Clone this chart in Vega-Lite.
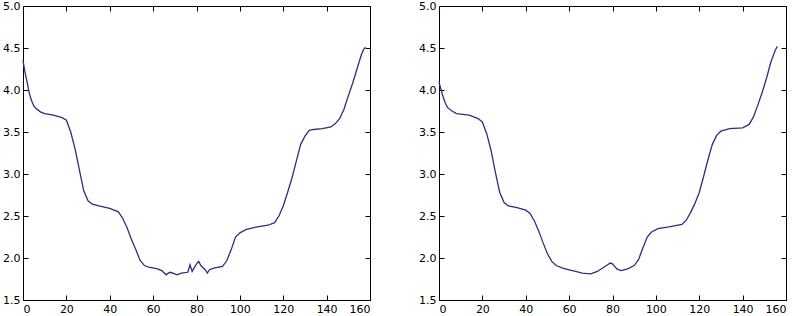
{
  "$schema": "https://vega.github.io/schema/vega-lite/v6.json",
  "padding": {"left": 2, "top": 0, "right": 0, "bottom": 0},
  "background": "white",
  "spacing": 47,
  "config": {
    "view": {"stroke": null},
    "font": "DejaVu Sans",
    "axis": {
      "grid": false,
      "title": null,
      "domainColor": "black",
      "domainWidth": 1,
      "tickColor": "black",
      "tickSize": -5,
      "labelPadding": 8,
      "labelFont": "DejaVu Sans",
      "labelFontSize": 11,
      "labelColor": "black"
    }
  },
  "datasets": {
    "left": [
      {"x": 0, "v": 4.35}, {"x": 1, "v": 4.2}, {"x": 2, "v": 4.08}, {"x": 3, "v": 3.95}, {"x": 4, "v": 3.87},
      {"x": 5, "v": 3.81}, {"x": 6, "v": 3.78}, {"x": 8, "v": 3.74}, {"x": 10, "v": 3.72}, {"x": 14, "v": 3.7},
      {"x": 18, "v": 3.67}, {"x": 20, "v": 3.64}, {"x": 22, "v": 3.5}, {"x": 24, "v": 3.3}, {"x": 26, "v": 3.05},
      {"x": 28, "v": 2.8}, {"x": 30, "v": 2.68}, {"x": 32, "v": 2.64}, {"x": 35, "v": 2.62}, {"x": 40, "v": 2.59},
      {"x": 44, "v": 2.55}, {"x": 46, "v": 2.47}, {"x": 48, "v": 2.36}, {"x": 50, "v": 2.22}, {"x": 52, "v": 2.1},
      {"x": 54, "v": 1.97}, {"x": 56, "v": 1.91}, {"x": 58, "v": 1.89}, {"x": 62, "v": 1.87}, {"x": 64, "v": 1.85},
      {"x": 66, "v": 1.8}, {"x": 67, "v": 1.82}, {"x": 68, "v": 1.83}, {"x": 70, "v": 1.81}, {"x": 71, "v": 1.8},
      {"x": 73, "v": 1.82}, {"x": 76, "v": 1.83}, {"x": 77, "v": 1.92}, {"x": 78, "v": 1.84}, {"x": 80, "v": 1.93},
      {"x": 81, "v": 1.96}, {"x": 82, "v": 1.91}, {"x": 84, "v": 1.86}, {"x": 85, "v": 1.82}, {"x": 86, "v": 1.86},
      {"x": 88, "v": 1.88}, {"x": 92, "v": 1.9}, {"x": 94, "v": 1.97}, {"x": 96, "v": 2.1}, {"x": 98, "v": 2.25},
      {"x": 100, "v": 2.3}, {"x": 103, "v": 2.34}, {"x": 108, "v": 2.37}, {"x": 113, "v": 2.39}, {"x": 116, "v": 2.42},
      {"x": 118, "v": 2.5}, {"x": 120, "v": 2.62}, {"x": 122, "v": 2.78}, {"x": 124, "v": 2.95}, {"x": 126, "v": 3.15},
      {"x": 128, "v": 3.35}, {"x": 130, "v": 3.45}, {"x": 132, "v": 3.52}, {"x": 134, "v": 3.53}, {"x": 138, "v": 3.54},
      {"x": 142, "v": 3.56}, {"x": 144, "v": 3.6}, {"x": 146, "v": 3.66}, {"x": 148, "v": 3.77}, {"x": 150, "v": 3.93},
      {"x": 152, "v": 4.08}, {"x": 154, "v": 4.25}, {"x": 156, "v": 4.42}, {"x": 157, "v": 4.48}, {"x": 158, "v": 4.51}
    ],
    "right": [
      {"x": 0, "v": 4.09}, {"x": 1, "v": 4.0}, {"x": 2, "v": 3.91}, {"x": 3, "v": 3.84}, {"x": 4, "v": 3.79},
      {"x": 6, "v": 3.75}, {"x": 8, "v": 3.72}, {"x": 14, "v": 3.7}, {"x": 18, "v": 3.66}, {"x": 20, "v": 3.62},
      {"x": 22, "v": 3.48}, {"x": 24, "v": 3.28}, {"x": 26, "v": 3.02}, {"x": 28, "v": 2.78}, {"x": 30, "v": 2.66},
      {"x": 32, "v": 2.62}, {"x": 36, "v": 2.6}, {"x": 40, "v": 2.57}, {"x": 42, "v": 2.53}, {"x": 44, "v": 2.44},
      {"x": 46, "v": 2.32}, {"x": 48, "v": 2.18}, {"x": 50, "v": 2.05}, {"x": 52, "v": 1.96}, {"x": 54, "v": 1.91},
      {"x": 57, "v": 1.88}, {"x": 60, "v": 1.86}, {"x": 63, "v": 1.84}, {"x": 66, "v": 1.82}, {"x": 70, "v": 1.81},
      {"x": 73, "v": 1.84}, {"x": 76, "v": 1.89}, {"x": 79, "v": 1.94}, {"x": 80, "v": 1.93}, {"x": 82, "v": 1.87},
      {"x": 84, "v": 1.85}, {"x": 87, "v": 1.87}, {"x": 90, "v": 1.91}, {"x": 92, "v": 1.98}, {"x": 94, "v": 2.12},
      {"x": 96, "v": 2.25}, {"x": 98, "v": 2.31}, {"x": 101, "v": 2.35}, {"x": 106, "v": 2.37}, {"x": 112, "v": 2.4},
      {"x": 114, "v": 2.45}, {"x": 116, "v": 2.54}, {"x": 118, "v": 2.65}, {"x": 120, "v": 2.78}, {"x": 122, "v": 2.97},
      {"x": 124, "v": 3.17}, {"x": 126, "v": 3.35}, {"x": 128, "v": 3.46}, {"x": 130, "v": 3.51}, {"x": 134, "v": 3.54},
      {"x": 140, "v": 3.55}, {"x": 143, "v": 3.59}, {"x": 145, "v": 3.68}, {"x": 147, "v": 3.82}, {"x": 149, "v": 3.97},
      {"x": 151, "v": 4.14}, {"x": 153, "v": 4.33}, {"x": 155, "v": 4.47}, {"x": 156, "v": 4.52}
    ]
  },
  "hconcat": [
    {
      "width": 347,
      "height": 294,
      "data": {"name": "left"},
      "resolve": {"axis": {"x": "independent", "y": "independent"}},
      "layer": [
        {
          "mark": {"type": "line", "color": "#2b2f80", "strokeWidth": 1.3},
          "encoding": {
            "x": {"field": "x", "type": "quantitative", "scale": {"domain": [0, 160], "nice": false, "zero": false}, "axis": {"orient": "bottom", "values": [0, 20, 40, 60, 80, 100, 120, 140, 160]}},
            "y": {"field": "v", "type": "quantitative", "scale": {"domain": [1.5, 5.0], "nice": false, "zero": false}, "axis": {"orient": "left", "values": [1.5, 2.0, 2.5, 3.0, 3.5, 4.0, 4.5, 5.0], "format": ".1f"}}
          }
        },
        {
          "mark": {"type": "line", "opacity": 0},
          "encoding": {
            "x": {"field": "x", "type": "quantitative", "axis": {"orient": "top", "labels": false, "values": [0, 20, 40, 60, 80, 100, 120, 140, 160]}},
            "y": {"field": "v", "type": "quantitative", "axis": {"orient": "right", "labels": false, "values": [1.5, 2.0, 2.5, 3.0, 3.5, 4.0, 4.5, 5.0]}}
          }
        }
      ]
    },
    {
      "width": 347,
      "height": 294,
      "data": {"name": "right"},
      "resolve": {"axis": {"x": "independent", "y": "independent"}},
      "layer": [
        {
          "mark": {"type": "line", "color": "#2b2f80", "strokeWidth": 1.3},
          "encoding": {
            "x": {"field": "x", "type": "quantitative", "scale": {"domain": [0, 160], "nice": false, "zero": false}, "axis": {"orient": "bottom", "values": [0, 20, 40, 60, 80, 100, 120, 140, 160]}},
            "y": {"field": "v", "type": "quantitative", "scale": {"domain": [1.5, 5.0], "nice": false, "zero": false}, "axis": {"orient": "left", "values": [1.5, 2.0, 2.5, 3.0, 3.5, 4.0, 4.5, 5.0], "format": ".1f"}}
          }
        },
        {
          "mark": {"type": "line", "opacity": 0},
          "encoding": {
            "x": {"field": "x", "type": "quantitative", "axis": {"orient": "top", "labels": false, "values": [0, 20, 40, 60, 80, 100, 120, 140, 160]}},
            "y": {"field": "v", "type": "quantitative", "axis": {"orient": "right", "labels": false, "values": [1.5, 2.0, 2.5, 3.0, 3.5, 4.0, 4.5, 5.0]}}
          }
        }
      ]
    }
  ]
}
